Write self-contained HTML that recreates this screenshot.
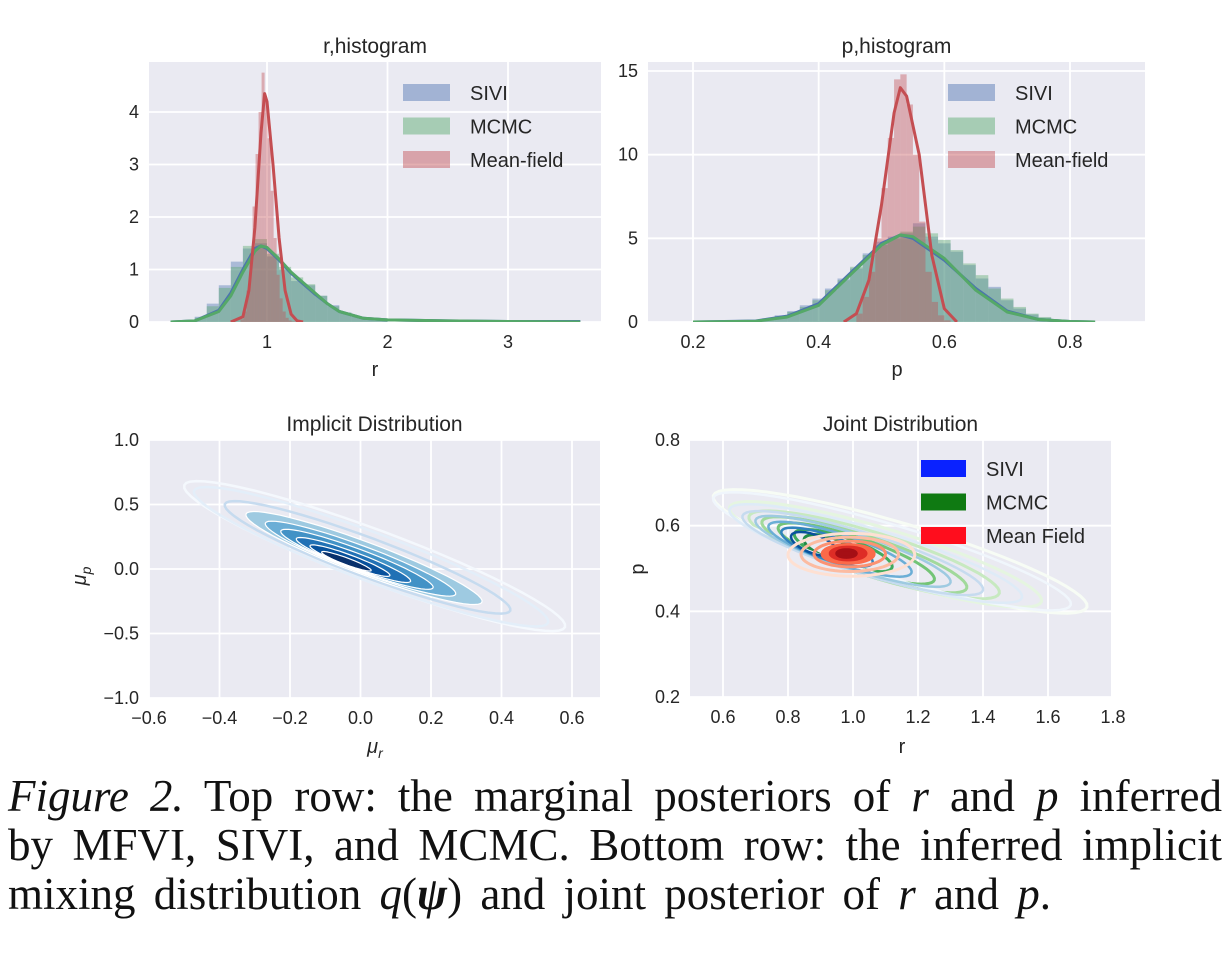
<!DOCTYPE html>
<html><head><meta charset="utf-8"><style>
html,body{margin:0;padding:0;background:#fff;width:1232px;height:956px;overflow:hidden}
#cap{position:absolute;left:8px;top:772px;width:1214px;font-family:"Liberation Serif",serif;font-size:45px;line-height:49px;color:#111}
.j2{text-align:justify;text-align-last:justify;white-space:nowrap;word-spacing:-2px}
</style></head><body>
<svg id="fig" width="1232" height="770" style="position:absolute;left:0;top:0" font-family="Liberation Sans, sans-serif"></svg>
<div id="cap">
<div class="j2"><i>Figure 2.</i> Top row: the marginal posteriors of <i>r</i> and <i>p</i> inferred</div>
<div class="j2">by MFVI, SIVI, and MCMC. Bottom row: the inferred implicit</div>
<div style="white-space:nowrap;word-spacing:7px">mixing distribution <i>q</i>(<b><i>ψ</i></b>) and joint posterior of <i>r</i> and <i>p</i>.</div>
</div>
<script>
// ---- data: r histogram ----
const rKdeX=[0.2,0.4,0.6,0.7,0.8,0.9,0.95,1.0,1.1,1.2,1.3,1.4,1.5,1.6,1.8,2.0,2.5,3.0,3.6];
const rKdeMCMC=[0,0.02,0.2,0.5,0.95,1.35,1.45,1.42,1.2,0.95,0.75,0.55,0.35,0.2,0.07,0.04,0.02,0.01,0];
const rKdeSIVI=[0,0.02,0.22,0.55,1.0,1.4,1.45,1.4,1.18,0.93,0.73,0.53,0.35,0.2,0.07,0.04,0.02,0.01,0.01];
const rMFX=[0.7,0.8,0.85,0.9,0.95,0.98,1.0,1.05,1.1,1.15,1.2,1.25,1.3];
const rKdeMF=[0,0.1,0.6,1.8,3.6,4.35,4.2,3.0,1.6,0.6,0.15,0.02,0];
const rBinStart=0.3, rBinW=0.1;
const rBinsMCMC=[0.02,0.08,0.3,0.65,1.05,1.45,1.58,1.3,1.05,0.85,0.72,0.5,0.3,0.18,0.1,0.06,0.04];
const rBinsSIVI=[0.03,0.1,0.35,0.7,1.15,1.4,1.5,1.25,1.0,0.78,0.7,0.5,0.32,0.18,0.1,0.05,0.04];
const rMFBinStart=0.78, rMFBinW=0.025;
const rBinsMF=[0.05,0.2,0.6,1.3,2.2,3.2,4.0,4.75,4.2,3.5,2.5,1.6,0.9,0.45,0.2,0.08,0.03,0.01];
// ---- data: p histogram ----
const pKdeX=[0.2,0.3,0.35,0.4,0.45,0.5,0.53,0.55,0.6,0.65,0.7,0.75,0.8,0.84];
const pKdeMCMC=[0,0.05,0.3,1.0,2.8,4.6,5.2,5.1,3.8,1.9,0.6,0.15,0.03,0];
const pKdeSIVI=[0,0.06,0.35,1.1,2.9,4.7,5.2,5.0,3.7,2.0,0.65,0.15,0.03,0];
const pMFX=[0.44,0.46,0.48,0.5,0.52,0.53,0.54,0.56,0.58,0.6,0.62];
const pKdeMF=[0,0.5,2.5,7,12.5,14,13.5,10,4,0.8,0];
const pBinStart=0.27, pBinW=0.02;
const pBinsMCMC=[0.05,0.1,0.2,0.35,0.6,0.9,1.3,1.9,2.5,3.3,4.0,4.6,5.0,5.4,5.7,5.3,4.9,4.3,3.5,2.8,2.0,1.4,0.9,0.5,0.3,0.15];
const pBinsSIVI=[0.05,0.12,0.22,0.4,0.65,1.0,1.4,2.0,2.6,3.2,4.1,4.8,5.1,5.3,5.9,5.1,4.7,4.2,3.4,2.6,2.1,1.3,0.8,0.45,0.25,0.12];
const pMFBinStart=0.46, pMFBinW=0.01;
const pBinsMF=[0.5,1.5,3,5,8,11,14.5,14.8,13,10,6,3,1.2,0.4,0.1];
// ---- data: implicit distribution contours ----
const impCenter=[0.04,0.1];
const impMajor=[0.54,-0.55];
const impLevels=[1.0,0.93,0.75,0.62,0.5,0.4,0.3,0.21,0.13];
const impColors=["#f4f8fd","#e3eef9","#c6dbef","#9ecae1","#6baed6","#4292c6","#2171b5","#08519c","#08306b"];
// ---- data: joint contours ----
const gCx=[1.145,1.1,1.065,1.035,1.01,0.97,0.93];
const gCy=[0.54,0.533,0.532,0.532,0.535,0.542,0.548];
const gUr=[0.575,0.48,0.385,0.315,0.24,0.15,0.08];
const gUp=[-0.13,-0.11,-0.09,-0.078,-0.062,-0.04,-0.022];
const gColors=["#f7fcf5","#e5f5e0","#c7e9c0","#a1d99b","#74c476","#41ab5d","#238b45"];
const bCx=[1.12,1.07,1.03,1.0,0.96,0.92,0.88];
const bCy=[0.54,0.535,0.536,0.54,0.545,0.55,0.557];
const bUr=[0.55,0.45,0.37,0.3,0.22,0.14,0.07];
const bUp=[-0.125,-0.103,-0.087,-0.073,-0.055,-0.037,-0.02];
const bColors=["#f0f6fc","#deebf7","#c6dbef","#9ecae1","#6baed6","#3182bd","#08519c"];
const mCx=[0.995,0.99,0.99,0.985,0.985,0.98];
const mCy=[0.532,0.533,0.534,0.534,0.535,0.535];
const mRr=[0.195,0.15,0.11,0.08,0.055,0.03];
const mRp=[0.05,0.04,0.03,0.022,0.015,0.009];
const mColors=["#fee0d2","#fcbba1","#fc9272","#fb6a4a","#de2d26","#a50f15"];

const NS="http://www.w3.org/2000/svg";
const svg=document.getElementById('fig');
function mk(tag,attrs,parent){const e=document.createElementNS(NS,tag);for(const k in attrs)e.setAttribute(k,attrs[k]);(parent||svg).appendChild(e);return e;}
function txt(x,y,s,size,anchor,parent){const t=mk('text',{x:x,y:y,'font-size':size,'text-anchor':anchor||'middle',fill:'#262626'},parent);t.textContent=s;return t;}
function lin(d0,d1,p0,p1){return v=>p0+(v-d0)/(d1-d0)*(p1-p0);}

function panel(name,x0,x1,y0,y1,xs,ys,xt,yt,xfmt,yfmt,title){
  const g=mk('g',{});
  
  
  const bg=mk('rect',{x:x0,y:y0,width:x1-x0,height:y1-y0,fill:'#eaeaf2'},g);
  
  
  xt.forEach(v=>{const px=xs(v);
    const l=mk('line',{x1:px,x2:px,y1:y0,y2:y1,stroke:'#fff','stroke-width':1.8},g);
    
    
    const t=txt(px,y1+26,xfmt(v),18,'middle',g);
    
    });
  yt.forEach(v=>{const py=ys(v);
    const l=mk('line',{x1:x0,x2:x1,y1:py,y2:py,stroke:'#fff','stroke-width':1.8},g);
    
    
    const t=txt(x0-10,py+6,yfmt(v),18,'end',g);
    
    });
  const tt=txt((x0+x1)/2,y0-9,title,21,'middle',g);
  
  
  const clip=mk('clipPath',{id:'c'+name},g);
  mk('rect',{x:x0,y:y0,width:x1-x0,height:y1-y0},clip);
  const inner=mk('g',{'clip-path':'url(#c'+name+')'},g);
  return {g:g,inner:inner};
}
function line(parent,xs,ys,X,Y,color,w,name){
  const d=X.map((x,i)=>(i?'L':'M')+xs(x).toFixed(1)+','+ys(Y[i]).toFixed(1)).join('');
  const p=mk('path',{d:d,fill:'none',stroke:color,'stroke-width':w,'stroke-linejoin':'round'},parent);
  
  
}
function bars(parent,xs,ys,start,w,H,color,op,name){
  H.forEach((h,i)=>{const a=xs(start+i*w),b=xs(start+(i+1)*w);
    const r=mk('rect',{x:a,y:ys(h),width:b-a,height:ys(0)-ys(h),fill:color,'fill-opacity':op},parent);
    
    });
}
function legend(parent,x,y,labels,colors,op,dy,pw){
  labels.forEach((l,i)=>{
    const r=mk('rect',{x:x,y:y+i*dy,width:pw,height:17,fill:colors[i],'fill-opacity':op},parent);
    
    
    const t=txt(x+pw+20,y+i*dy+16,l,20,'start',parent);
    
    
  });
}
const f0=v=>String(v), f1=v=>v.toFixed(1);
const C={b:'#4c72b0',g:'#55a868',r:'#c44e52'};

{const xs=lin(1,3,267,508), ys=lin(0,4,322,112);
 const P=panel('r-histogram',149,601,62,322,xs,ys,[1,2,3],[0,1,2,3,4],f0,f0,'r,histogram');
 bars(P.inner,xs,ys,rBinStart,rBinW,rBinsSIVI,C.b,0.4,'sivi-bar');
 bars(P.inner,xs,ys,rBinStart,rBinW,rBinsMCMC,C.g,0.4,'mcmc-bar');
 bars(P.inner,xs,ys,rMFBinStart,rMFBinW,rBinsMF,C.r,0.4,'mean-field-bar');
 line(P.inner,xs,ys,rKdeX,rKdeSIVI,C.b,3,'sivi-kde');
 line(P.inner,xs,ys,rKdeX,rKdeMCMC,C.g,3,'mcmc-kde');
 line(P.inner,xs,ys,rMFX,rKdeMF,C.r,3,'mean-field-kde');
 legend(P.g,403,84,['SIVI','MCMC','Mean-field'],[C.b,C.g,C.r],0.45,33.5,47);
 const xl=txt(375,376,'r',20,'middle',P.g);}

{const xs=lin(0.2,0.8,693,1070), ys=lin(0,15,322,71);
 const P=panel('p-histogram',648,1145,62,322,xs,ys,[0.2,0.4,0.6,0.8],[0,5,10,15],f1,f0,'p,histogram');
 bars(P.inner,xs,ys,pBinStart,pBinW,pBinsSIVI,C.b,0.4,'sivi-bar');
 bars(P.inner,xs,ys,pBinStart,pBinW,pBinsMCMC,C.g,0.4,'mcmc-bar');
 bars(P.inner,xs,ys,pMFBinStart,pMFBinW,pBinsMF,C.r,0.4,'mean-field-bar');
 line(P.inner,xs,ys,pKdeX,pKdeSIVI,C.b,3,'sivi-kde');
 line(P.inner,xs,ys,pKdeX,pKdeMCMC,C.g,3,'mcmc-kde');
 line(P.inner,xs,ys,pMFX,pKdeMF,C.r,3,'mean-field-kde');
 legend(P.g,948,84,['SIVI','MCMC','Mean-field'],[C.b,C.g,C.r],0.45,33.5,47);
 const xl=txt(897,376,'p',20,'middle',P.g);}

function ellipse(parent,xs,ys,cx,cy,ur,up,minorPx,stroke,fill,w,name){
  const X=xs(cx),Y=ys(cy),ax=xs(cx+ur)-X,ay=ys(cy+up)-Y;
  const L=Math.hypot(ax,ay),nx=-ay/L*minorPx,ny=ax/L*minorPx;
  let d='';for(let i=0;i<=60;i++){const t=i/60*2*Math.PI,c=Math.cos(t),s=Math.sin(t);
    d+=(i?'L':'M')+(X+ax*c+nx*s).toFixed(1)+','+(Y+ay*c+ny*s).toFixed(1);}
  const p=mk('path',{d:d+'Z',fill:fill||'none',stroke:stroke,'stroke-width':w},parent);
  
  
}

{const xs=lin(-0.6,0.6,149,572), ys=lin(-1,1,698,440);
 const P=panel('implicit-distribution',149,600,440,698,xs,ys,[-0.6,-0.4,-0.2,0,0.2,0.4,0.6],[-1,-0.5,0,0.5,1],v=>f1(v).replace('-','−'),v=>f1(v).replace('-','−'),'Implicit Distribution');
 impLevels.forEach((s,i)=>{ if(i>=3) ellipse(P.inner,xs,ys,impCenter[0]-0.01*i,impCenter[1]-0.005*i,impMajor[0]*s,impMajor[1]*s,26*s,'none',impColors[i],0,'implicit-fill');});
 impLevels.forEach((s,i)=>ellipse(P.inner,xs,ys,impCenter[0]-0.01*i,impCenter[1]-0.005*i,impMajor[0]*s,impMajor[1]*s,26*s,i>=3?'#fff':impColors[i],null,i>=3?1.2:2.5,'implicit-contour'));
 const xl=txt(375,753,'μ',20,'middle',P.g);
 xl.setAttribute('font-style','italic');const s1=mk('tspan',{'font-size':14,dy:5},xl);s1.textContent='r';
 const yl=txt(0,0,'μ',20,'middle',P.g);yl.setAttribute('transform','translate(86,576) rotate(-90)');yl.setAttribute('font-style','italic');
 const s2=mk('tspan',{'font-size':14,dy:5},yl);s2.textContent='p';}

{const xs=lin(0.6,1.8,723,1113), ys=lin(0.2,0.8,697,440);
 const P=panel('joint-distribution',690,1111,440,697,xs,ys,[0.6,0.8,1.0,1.2,1.4,1.6,1.8],[0.2,0.4,0.6,0.8],f1,f1,'Joint Distribution');
 gCx.forEach((c,i)=>ellipse(P.inner,xs,ys,c,gCy[i],gUr[i],gUp[i],28-i*3,gColors[i],null,3,'mcmc-contour'));
 bCx.forEach((c,i)=>ellipse(P.inner,xs,ys,c,bCy[i],bUr[i],bUp[i],26-i*2.8,bColors[i],null,2.5,'sivi-contour'));
 mCx.forEach((c,i)=>ellipse(P.inner,xs,ys,c,mCy[i],mRr[i],0,mRp[i]*428,mColors[i],i>=3?mColors[i]:null,3,'mean-field-contour'));
 legend(P.g,921,460,['SIVI','MCMC','Mean Field'],['#0a22ff','#0f7a12','#ff0d1d'],1,33.5,45);
 const xl=txt(902,753,'r',20,'middle',P.g);
 const yl=txt(0,0,'p',20,'middle',P.g);yl.setAttribute('transform','translate(644,569) rotate(-90)');}
</script>
</body></html>
